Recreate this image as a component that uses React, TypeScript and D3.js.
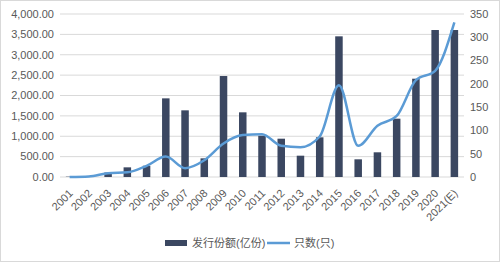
import React from "react";
import * as d3 from "d3";

const categories = ["2001","2002","2003","2004","2005","2006","2007","2008","2009","2010","2011","2012","2013","2014","2015","2016","2017","2018","2019","2020","2021(E)"];
const shares = [8, 12, 110, 237, 277, 1930, 1636, 458, 2478, 1587, 1014, 940, 523, 974, 3452, 434, 606, 1431, 2412, 3607, 3607];
const counts = [0, 1, 8, 10, 24, 44, 19, 36, 72, 90, 92, 67, 64, 87, 197, 67, 110, 131, 208, 228, 332];
const leftTicks = [0, 500, 1000, 1500, 2000, 2500, 3000, 3500, 4000];
const rightTicks = [0, 50, 100, 150, 200, 250, 300, 350];
const legendLabels = ["发行份额(亿份)", "只数(只)"];

const W = 500, H = 262;
const font = "'Liberation Sans', Arial, 'Noto Sans CJK SC', sans-serif";

export default function App() {
  const x0 = 60, x1 = 464;
  const x = d3.scaleBand<string>().domain(categories).range([x0, x1]).paddingInner(0.61).paddingOuter(0.305);
  const xc = (c: string) => (x(c) as number) + x.bandwidth() / 2;
  const yL = d3.scaleLinear().domain([0, 4000]).range([177, 14]);
  const yR = d3.scaleLinear().domain([0, 350]).range([177, 14]);
  const line = d3.line<number>().x((_, i) => xc(categories[i])).y(d => yR(d)).curve(d3.curveMonotoneX);
  const fmt = d3.format(",.2f");
  const barColor = "#3b4761";
  const lineColor = "#5b9bd5";
  return (
    <svg width={W} height={H} style={{ position: "fixed", left: 0, top: 0, background: "#fff" }} fontFamily={font}>
      <rect x={0.5} y={0.5} width={W - 1} height={H - 1} fill="#fff" stroke="#d9d9d9" />
      {leftTicks.map(t => (
        <line key={t} x1={x0} x2={x1} y1={yL(t)} y2={yL(t)} stroke="#d9d9d9" strokeWidth={1} />
      ))}
      {leftTicks.map(t => (
        <text key={t} x={54} y={yL(t)} dy="0.35em" textAnchor="end" fontSize={11} fill="#595959">{fmt(t)}</text>
      ))}
      {rightTicks.map(t => (
        <text key={t} x={470} y={yR(t)} dy="0.35em" textAnchor="start" fontSize={11} fill="#595959">{t}</text>
      ))}
      {categories.map((c, i) => (
        <rect key={c} x={x(c)} y={yL(shares[i])} width={x.bandwidth()} height={177 - yL(shares[i])} fill={barColor} />
      ))}
      <path d={line(counts) || ""} fill="none" stroke={lineColor} strokeWidth={2.5} />
      {categories.map(c => (
        <text key={c} transform={`translate(${xc(c) + 4},${194}) rotate(-45)`} textAnchor="end" fontSize={11} fill="#595959">{c}</text>
      ))}
      <rect x={165} y={240} width={22} height={6} fill={barColor} />
      <text x={192} y={243} dy="0.35em" fontSize={11} fill="#595959">{legendLabels[0]}</text>
      <line x1={267} x2={290} y1={243} y2={243} stroke={lineColor} strokeWidth={2.5} />
      <text x={294} y={243} dy="0.35em" fontSize={11} fill="#595959">{legendLabels[1]}</text>
    </svg>
  );
}
